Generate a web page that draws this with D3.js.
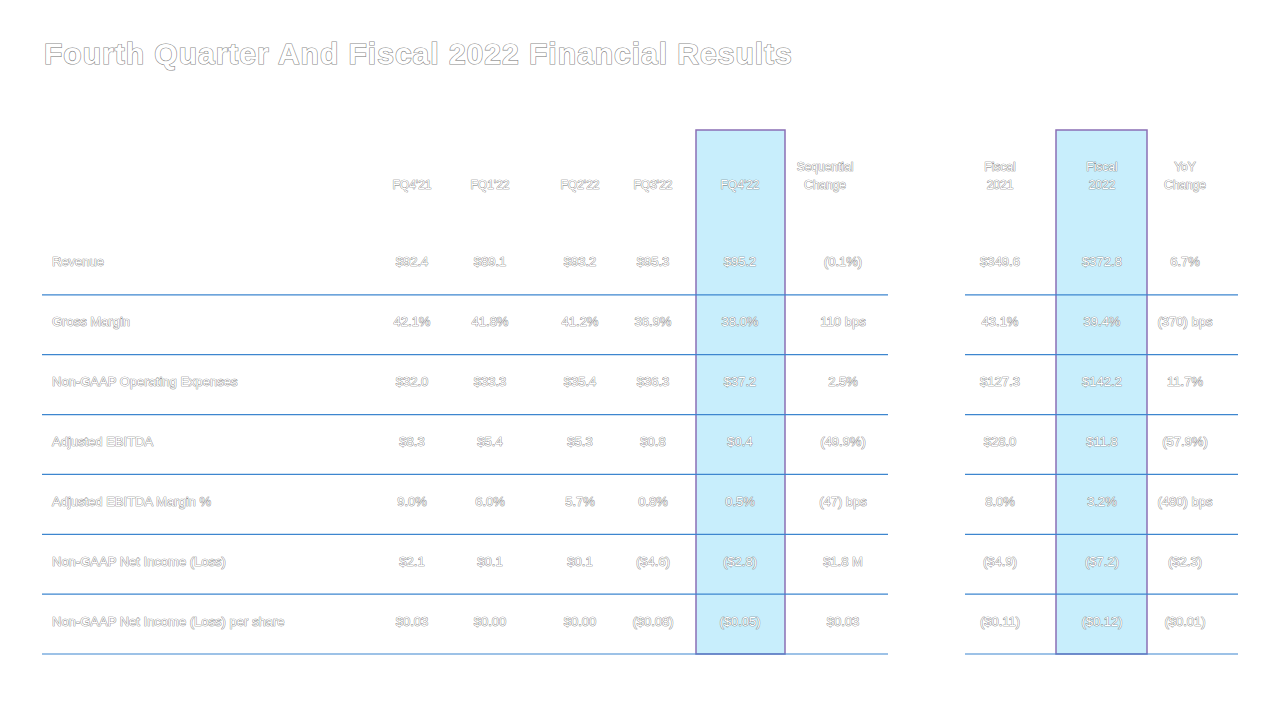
<!DOCTYPE html>
<html><head><meta charset="utf-8">
<script src="https://cdn.jsdelivr.net/npm/d3@7"></script>
<style>body{margin:0;background:#fff}</style>
</head><body>
<svg id="chart" width="1280" height="720"></svg>
<script>
const title = "Fourth Quarter And Fiscal 2022 Financial Results";
const rowLabels = ["Revenue", "Gross Margin", "Non-GAAP Operating Expenses", "Adjusted EBITDA",
  "Adjusted EBITDA Margin %", "Non-GAAP Net Income (Loss)", "Non-GAAP Net Income (Loss) per share"];
const quarterHeaders = [["FQ4'21"], ["FQ1'22"], ["FQ2'22"], ["FQ3'22"], ["FQ4'22"], ["Sequential", "Change"]];
const fiscalHeaders = [["Fiscal", "2021"], ["Fiscal", "2022"], ["YoY", "Change"]];
const quarterValues = [
  ["$92.4", "$89.1", "$93.2", "$95.3", "$95.2", "(0.1%)"],
  ["42.1%", "41.8%", "41.2%", "36.9%", "38.0%", "110 bps"],
  ["$32.0", "$33.3", "$35.4", "$36.3", "$37.2", "2.5%"],
  ["$8.3", "$5.4", "$5.3", "$0.8", "$0.4", "(49.9%)"],
  ["9.0%", "6.0%", "5.7%", "0.8%", "0.5%", "(47) bps"],
  ["$2.1", "$0.1", "$0.1", "($4.6)", "($2.8)", "$1.8 M"],
  ["$0.03", "$0.00", "$0.00", "($0.08)", "($0.05)", "$0.03"]
];
const fiscalValues = [
  ["$349.6", "$372.8", "6.7%"],
  ["43.1%", "39.4%", "(370) bps"],
  ["$127.3", "$142.2", "11.7%"],
  ["$28.0", "$11.8", "(57.9%)"],
  ["8.0%", "3.2%", "(480) bps"],
  ["($4.9)", "($7.2)", "($2.3)"],
  ["($0.11)", "($0.12)", "($0.01)"]
];

const svg = d3.select("#chart");
const font = "Liberation Sans, Arial, sans-serif";
// layout
const qX = [412, 490, 580, 653, 740, 843];
const qHeadX = [412, 490, 580, 653, 740, 825];
const fX = [1000, 1102, 1185];
const y = d3.scaleBand().domain(d3.range(rowLabels.length)).range([235, 654]).paddingInner(0);

function txt(g, x, yy, s, size, anchor) {
  return g.append("text").attr("x", x).attr("y", yy).text(s)
    .attr("font-family", font).attr("font-size", size)
    .attr("text-anchor", anchor || "middle").attr("dominant-baseline", "middle")
    .attr("fill", "#fff").attr("stroke", "#6e6e6e").attr("stroke-width", 0.7)
    .attr("paint-order", "stroke");
}

// highlight columns
[[696, 785], [1056, 1147]].forEach(([a, b]) => {
  svg.append("rect").attr("x", a).attr("y", 130).attr("width", b - a).attr("height", 654 - 130)
    .attr("fill", "#c8eefc").attr("stroke", "#8a6fb5").attr("stroke-width", 1.5);
});

// row separators
rowLabels.forEach((_, i) => {
  const yy = y(i) + y.bandwidth();
  svg.append("line").attr("x1", 42).attr("x2", 888).attr("y1", yy).attr("y2", yy)
    .attr("stroke", "#3d86cf").attr("stroke-width", 1.2);
  svg.append("line").attr("x1", 965).attr("x2", 1238).attr("y1", yy).attr("y2", yy)
    .attr("stroke", "#3d86cf").attr("stroke-width", 1.2);
});

// title
txt(svg, 44, 56, title, 30, "start").attr("font-weight", "bold")
  .attr("stroke", "#888").attr("stroke-width", 1.2).attr("letter-spacing", 1);

// headers
function headers(list, xs) {
  list.forEach((h, i) => {
    h.forEach((line, j) => {
      const yy = h.length === 1 ? 186 : 168 + j * 18;
      txt(svg, xs[i], yy, line, 12);
    });
  });
}
headers(quarterHeaders, qHeadX);
headers(fiscalHeaders, fX);

// body
rowLabels.forEach((lab, i) => {
  const cy = y(i) + y.bandwidth() / 2 - 2;
  txt(svg, 52, cy, lab, 13, "start");
  quarterValues[i].forEach((v, k) => txt(svg, qX[k], cy, v, 13));
  fiscalValues[i].forEach((v, k) => txt(svg, fX[k], cy, v, 13));
});
</script>
</body></html>
